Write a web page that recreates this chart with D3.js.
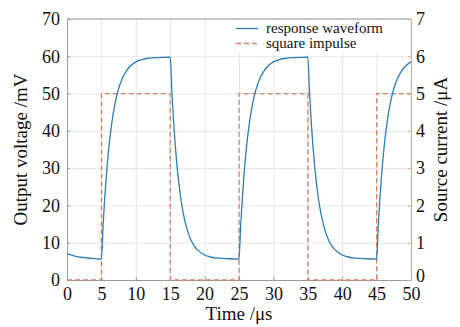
<!DOCTYPE html>
<html>
<head>
<meta charset="utf-8">
<script src="https://cdn.jsdelivr.net/npm/d3@7"></script>
<style>
  body { margin: 0; background: #fff; }
  text { font-family: "Liberation Serif", serif; fill: #111; }
</style>
</head>
<body>
<svg class="chart" width="460" height="327"></svg>
<script>
// values
const timeUs = [0, 1, 2, 3, 4, 5,
  5.25, 5.5, 5.75, 6, 6.5, 7, 7.5, 8, 8.5, 9, 10, 11, 12, 13, 15,
  15.25, 15.5, 15.75, 16, 16.5, 17, 17.5, 18, 18.5, 19, 20, 21, 22, 23, 25,
  25.25, 25.5, 25.75, 26, 26.5, 27, 27.5, 28, 28.5, 29, 30, 31, 32, 33, 35,
  35.25, 35.5, 35.75, 36, 36.5, 37, 37.5, 38, 38.5, 39, 40, 41, 42, 43, 45,
  45.25, 45.5, 45.75, 46, 46.5, 47, 47.5, 48, 48.5, 49, 50];
const voltageMv = [7.0, 6.5, 6.1, 5.9, 5.75, 5.6,
  14.8, 22.4, 28.7, 34.0, 42.0, 47.5, 51.3, 53.9, 55.7, 57.0, 58.5, 59.2, 59.5, 59.65, 59.8,
  50.2, 42.3, 35.8, 30.4, 22.4, 17.0, 13.3, 10.8, 9.1, 8.0, 6.7, 6.1, 5.85, 5.75, 5.6,
  14.8, 22.4, 28.7, 34.0, 42.0, 47.5, 51.3, 53.9, 55.7, 57.0, 58.5, 59.2, 59.5, 59.65, 59.8,
  50.2, 42.3, 35.8, 30.4, 22.4, 17.0, 13.3, 10.8, 9.1, 8.0, 6.7, 6.1, 5.85, 5.75, 5.6,
  14.8, 22.4, 28.7, 34.0, 42.0, 47.5, 51.3, 53.9, 55.7, 57.0, 58.5];

const pulseTime = [0, 5, 5, 15, 15, 25, 25, 35, 35, 45, 45, 50];
const pulseCurrent = [0, 0, 5, 5, 0, 0, 5, 5, 0, 0, 5, 5];

const xTicks = [0, 5, 10, 15, 20, 25, 30, 35, 40, 45, 50];
const yLeftTicks = [0, 10, 20, 30, 40, 50, 60, 70];
const yRightTicks = [0, 1, 2, 3, 4, 5, 6, 7];

const legendNames = ["response waveform", "square impulse"];

const margin = { left: 67, right: 49, top: 19, bottom: 47 };
const width = 460, height = 327;
const blue = "#2f7db6";
const orange = "#d6825f";
const font = "Liberation Serif";

const svg = d3.select(".chart");

const x = d3.scaleLinear().domain([0, 50]).range([margin.left, width - margin.right]);
const yL = d3.scaleLinear().domain([0, 70]).range([height - margin.bottom, margin.top]);
const yR = d3.scaleLinear().domain([0, 7]).range([height - margin.bottom, margin.top]);

// grid
svg.append("g")
  .attr("transform", `translate(0,${margin.top})`)
  .call(d3.axisTop(x).tickValues(xTicks.slice(1, -1)).tickSize(-(height - margin.top - margin.bottom)).tickFormat(""))
  .call(g => g.select(".domain").remove())
  .call(g => g.selectAll("line").attr("stroke", "#e4e4e4"));

svg.append("g")
  .attr("transform", `translate(${margin.left},0)`)
  .call(d3.axisLeft(yL).tickValues(yLeftTicks.slice(1, -1)).tickSize(-(width - margin.left - margin.right)).tickFormat(""))
  .call(g => g.select(".domain").remove())
  .call(g => g.selectAll("line").attr("stroke", "#e0e8ef"));

// top border
svg.append("line")
  .attr("x1", margin.left).attr("x2", width - margin.right)
  .attr("y1", margin.top).attr("y2", margin.top)
  .attr("stroke", "#8a8a8a");

// bottom axis
svg.append("g")
  .attr("transform", `translate(0,${height - margin.bottom})`)
  .call(d3.axisBottom(x).tickValues(xTicks).tickSize(-3).tickPadding(7))
  .call(g => g.select(".domain").attr("stroke", "#9a9a9a"))
  .call(g => g.selectAll("line").attr("stroke", "#9a9a9a"))
  .call(g => g.selectAll("text").attr("font-size", 18).attr("font-family", font).attr("fill", "#111"));

// left axis
svg.append("g")
  .attr("transform", `translate(${margin.left},0)`)
  .call(d3.axisLeft(yL).tickValues(yLeftTicks).tickSize(-3).tickPadding(7))
  .call(g => g.select(".domain").attr("stroke", "#7fa2c2"))
  .call(g => g.selectAll("line").attr("stroke", "#7fa2c2"))
  .call(g => g.selectAll("text").attr("font-size", 18).attr("font-family", font).attr("fill", "#111"));

// right axis
svg.append("g")
  .attr("transform", `translate(${width - margin.right},0)`)
  .call(d3.axisRight(yR).tickValues(yRightTicks).tickFormat(d3.format("d")).tickSize(-3).tickPadding(5))
  .call(g => g.select(".domain").attr("stroke", "#dca88f"))
  .call(g => g.selectAll("line").attr("stroke", "#dca88f"))
  .call(g => g.selectAll("text").attr("font-size", 18).attr("font-family", font).attr("fill", "#111"))
  .call(g => g.selectAll(".tick text").filter(d => d === 0).attr("dy", "0.1em"));

// square impulse
svg.append("path")
  .datum(pulseTime.map((t, i) => [t, pulseCurrent[i]]))
  .attr("fill", "none")
  .attr("stroke", orange)
  .attr("stroke-width", 1.3)
  .attr("stroke-dasharray", "5,3")
  .attr("d", d3.line().x(d => x(d[0])).y(d => yR(d[1])));

// response waveform
svg.append("path")
  .datum(timeUs.map((t, i) => [t, voltageMv[i]]))
  .attr("fill", "none")
  .attr("stroke", blue)
  .attr("stroke-width", 1.3)
  .attr("d", d3.line().curve(d3.curveMonotoneX).x(d => x(d[0])).y(d => yL(d[1])));

// axis titles
svg.append("text")
  .attr("x", x(25)).attr("y", 320)
  .attr("text-anchor", "middle").attr("font-size", 19)
  .text("Time /\u03bcs");

svg.append("text")
  .attr("transform", `translate(27,${(margin.top + height - margin.bottom) / 2}) rotate(-90)`)
  .attr("text-anchor", "middle").attr("font-size", 19)
  .text("Output voltage /mV");

svg.append("text")
  .attr("transform", `translate(447,${(margin.top + height - margin.bottom) / 2}) rotate(-90)`)
  .attr("text-anchor", "middle").attr("font-size", 19)
  .text("Source current /\u03bcA");

// legend
const legend = svg.append("g");
legend.append("rect")
  .attr("x", 231).attr("y", 20.5).attr("width", 177).attr("height", 33)
  .attr("fill", "#fff");
legendNames.forEach((name, i) => {
  const yy = 28.5 + i * 15;
  legend.append("line")
    .attr("x1", 236).attr("x2", 258).attr("y1", yy).attr("y2", yy)
    .attr("stroke", i === 0 ? blue : orange)
    .attr("stroke-width", 1.3)
    .attr("stroke-dasharray", i === 0 ? null : "5,3");
  legend.append("text")
    .attr("x", 266).attr("y", yy + 4.5)
    .attr("font-size", 15)
    .text(name);
});
</script>
</body>
</html>
